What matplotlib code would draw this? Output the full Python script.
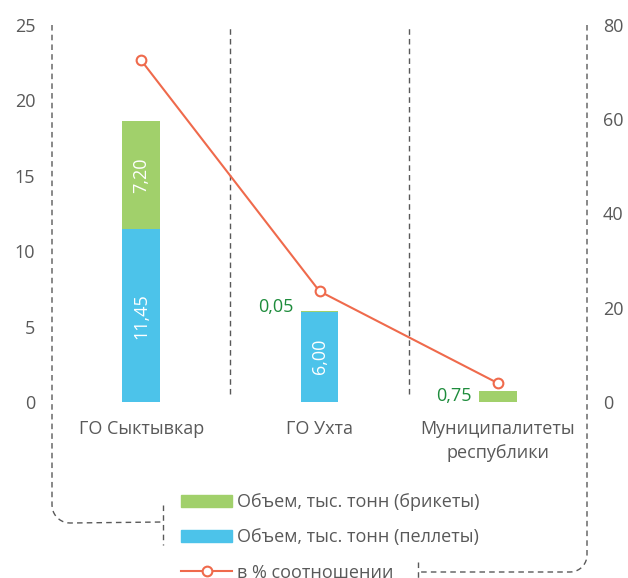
import matplotlib.pyplot as plt
import numpy as np
from matplotlib.lines import Line2D
from matplotlib.patches import Patch

plt.rcParams['font.family'] = ['Open Sans', 'DejaVu Sans']

# data
categories = ['ГО Сыктывкар', 'ГО Ухта', 'Муниципалитеты\nреспублики']
pellets = [11.45, 6.00, 0.0]
briquettes = [7.20, 0.05, 0.75]
share_pct = [72.5, 23.5, 4.0]

GREEN = '#A1D06B'
BLUE = '#4CC3EA'
LINE = '#EF6A4C'
GREY = '#595959'
LABEL_GREEN = '#1E8C3C'

W, H = 628, 578


def px(x, y):
    # pixel coords (from top-left) -> figure fraction
    return x / W, 1 - y / H


def dashed(xs, ys):
    fx, fy = zip(*[px(a, b) for a, b in zip(xs, ys)])
    fig.add_artist(Line2D(fx, fy, transform=fig.transFigure, color=GREY,
                          lw=1, linestyle=(0, (4, 3))))


def corner(cx, cy, r, a0, a1):
    t = np.linspace(np.radians(a0), np.radians(a1), 12)
    return list(cx + r * np.cos(t)), list(cy - r * np.sin(t))


fig = plt.figure(figsize=(6.28, 5.78), dpi=100)
l, b = px(52, 402)
r, t = px(587, 25)
ax = fig.add_axes([l, b, r - l, t - b])
ax2 = ax.twinx()

x = np.arange(len(categories))
bw = 0.21
ax.bar(x, pellets, bw, color=BLUE, label='Объем, тыс. тонн (пеллеты)')
ax.bar(x, briquettes, bw, bottom=pellets, color=GREEN,
       label='Объем, тыс. тонн (брикеты)')
ax2.plot(x, share_pct, color=LINE, lw=1.5, marker='o', ms=7,
         mfc='white', mec=LINE, mew=1.5, label='в % соотношении')

ax.set_xlim(-0.5, 2.5)
ax.set_ylim(0, 25)
ax2.set_ylim(0, 80)
ax.set_yticks(range(0, 26, 5))
ax2.set_yticks(range(0, 81, 20))
ax.set_xticks(x)
ax.set_xticklabels(categories, linespacing=1.45)
for a in (ax, ax2):
    for s in a.spines.values():
        s.set_visible(False)
    a.tick_params(length=0, labelsize=13, colors=GREY)
ax.tick_params(axis='y', pad=12)
ax2.tick_params(axis='y', pad=11.5)
ax.tick_params(axis='x', pad=13)

# value labels
fmt = lambda v: f'{v:.2f}'.replace('.', ',')
for i in range(2):
    if pellets[i] > 1:
        ax.text(x[i], pellets[i] / 2, fmt(pellets[i]),
                rotation=90, color='white', ha='center', va='center', fontsize=13)
ax.text(x[0], pellets[0] + briquettes[0] / 2, fmt(briquettes[0]), rotation=90,
        color='white', ha='center', va='center', fontsize=13)
for i in (1, 2):
    ax.text(x[i] - bw / 2 - 0.04, pellets[i] + briquettes[i] / 2 + (0.25 if i == 1 else 0),
            fmt(briquettes[i]), color=LABEL_GREEN,
            ha='right', va='center', fontsize=13)

# separators
for xv in (0.5, 1.5):
    ax.axvline(xv, ymin=0.02, color=GREY, lw=1, linestyle=(0, (4, 3)))

# outer frame lines with rounded corners
cx, cy = corner(70, 505, 18, 180, 270)
dashed([52] + cx + [163], [25] + cy + [522])
dashed([163, 163], [505, 545])
cx, cy = corner(570, 555, 17, 0, -90)
dashed([587] + cx + [418], [25] + cy + [572])
dashed([418, 418], [562, 580])

handles = [Patch(color=GREEN), Patch(color=BLUE),
           Line2D([], [], color=LINE, lw=1.5, marker='o', ms=7, mfc='white',
                  mec=LINE, mew=1.5)]
labels = ['Объем, тыс. тонн (брикеты)', 'Объем, тыс. тонн (пеллеты)',
          'в % соотношении']
lx, ly = px(165, 477)
fig.legend(handles, labels, loc='upper left', bbox_to_anchor=(lx, ly),
           frameon=False, fontsize=13, labelcolor=GREY, handlelength=2.8,
           handleheight=0.65, labelspacing=0.95, handletextpad=0.3)

plt.savefig('out.png', dpi=100)
